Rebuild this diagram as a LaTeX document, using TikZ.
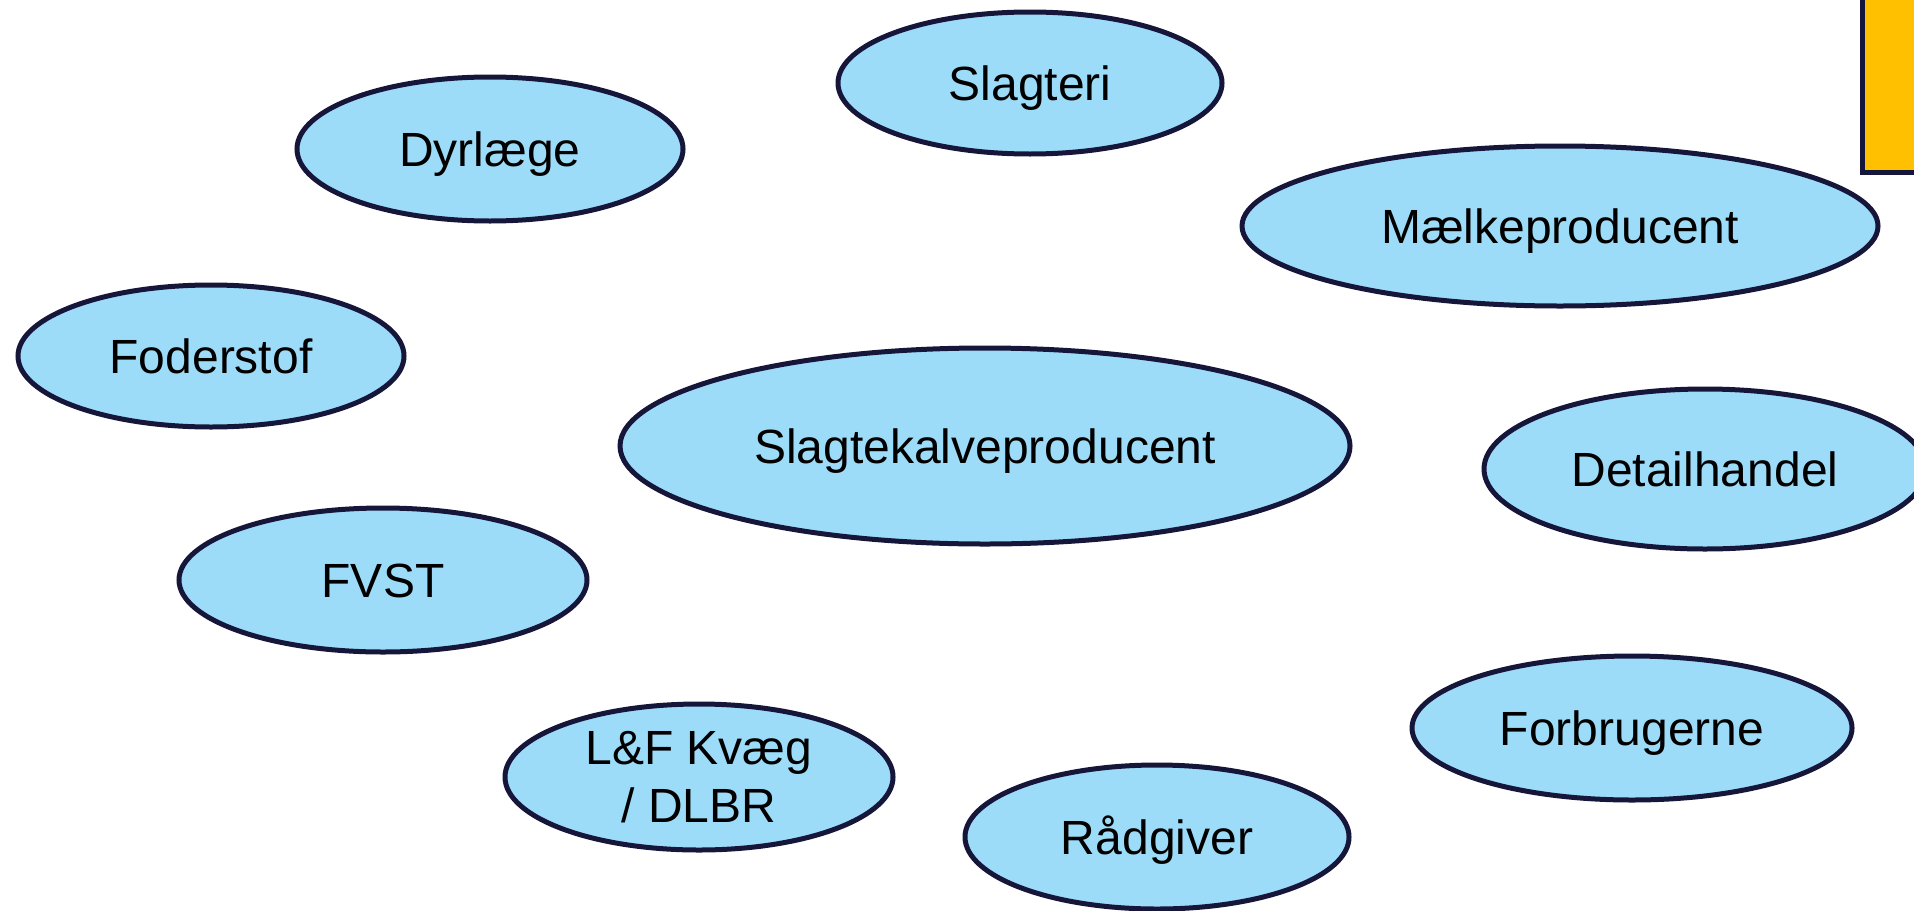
\documentclass[tikz,border=0pt]{standalone}
\usepackage{fontspec}
\setmainfont{Liberation Sans}
\usepackage{tikz}
\usetikzlibrary{shapes.geometric,positioning}
\definecolor{aktblue}{HTML}{9DDCF8}
\definecolor{aktline}{HTML}{16163A}
\definecolor{aktyellow}{HTML}{FFC000}
\tikzset{aktor/.style={ellipse, draw=aktline, fill=aktblue, line width=2.5pt, inner sep=0pt, align=center,
font=\fontsize{24}{29}\selectfont, text height=17.2pt, text depth=0pt, minimum width=#1},
aktor/.default={195pt}}

\begin{document}
\begin{tikzpicture}[x=0.5pt,y=-0.5pt]
			\clip (0,0) rectangle (1914,910);
			\draw [line width=2.5pt, aktline, fill=aktyellow] (1862,-20) rectangle (1940,172);
			\node [aktor=192pt, minimum height=71pt] (slagteri) at (1030,83) {Slagteri};
			\node [aktor=193pt, minimum height=72pt] (dyrlaege) at (490,149) {Dyrlæge};
			\node [aktor=318pt, minimum height=80pt] (maelk) at (1560,226) {Mælkeproducent};
			\node [aktor=193pt, minimum height=71pt] (foder) at (211,356) {Foderstof};
			\node [aktor=365pt, minimum height=98pt] (slagtekalv) at (985,446) {Slagtekalveproducent};
			\node [aktor=221pt, minimum height=80pt] (detail) at (1705,469) {Detailhandel};
			\node [aktor=204pt, minimum height=72pt] (fvst) at (383,580) {FVST};
			\node [aktor=220pt, minimum height=72pt] (forbrug) at (1632,728) {Forbrugerne};
			\node [aktor=194pt, minimum height=73pt, text height={}, text depth={}] (lf) at (699,777) {L\&F Kvæg\\/ DLBR};
			\node [aktor=192pt, minimum height=72pt] (raadgiver) at (1157,837) {Rådgiver};
		\end{tikzpicture}
\end{document}
